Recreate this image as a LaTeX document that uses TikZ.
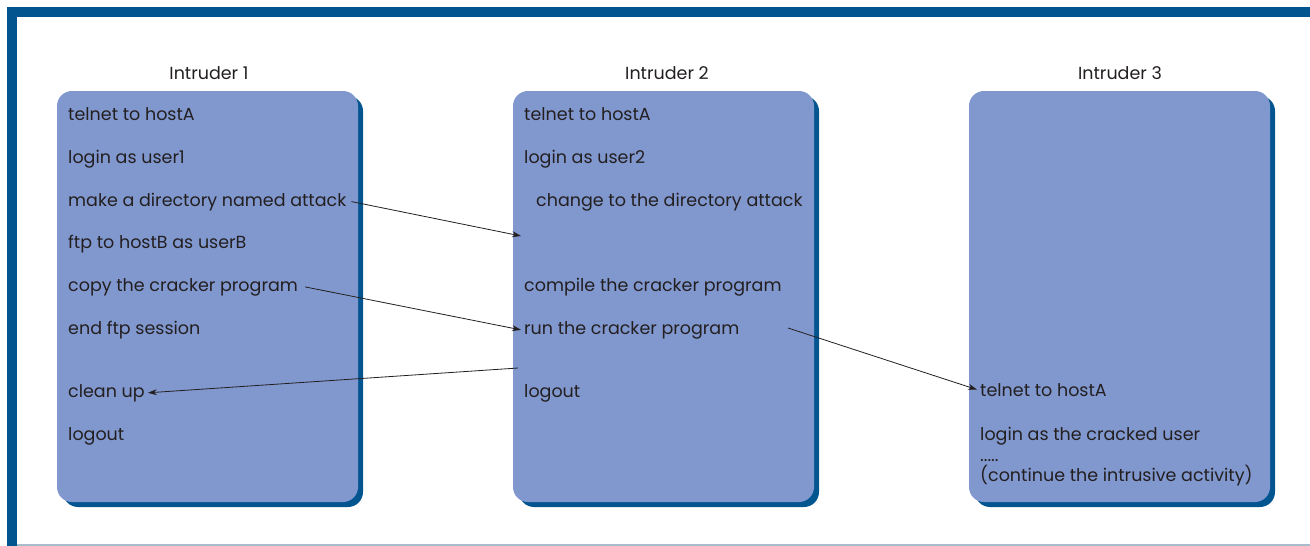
\documentclass[tikz,border=0pt]{standalone}
\usepackage{fontspec}
\setmainfont{Poppins}
\usetikzlibrary{arrows.meta}
\definecolor{frameblue}{HTML}{02558F}
\definecolor{boxfill}{HTML}{8198CF}
\definecolor{rulegray}{HTML}{A9BCCB}
\definecolor{ink}{HTML}{231F20}
\tikzset{
  item/.style={anchor=base west, inner sep=0pt, text=ink, font=\fontsize{17.5}{20}\selectfont},
  title/.style={anchor=base, inner sep=0pt, text=ink, font=\fontsize{17.5}{20}\selectfont},
  flow/.style={draw=ink, line width=0.8pt, -{Stealth[length=9pt,width=6pt]}},
  panelshadow/.style={fill=frameblue, rounded corners=15pt},
  panel/.style={fill=boxfill, rounded corners=15pt}
}
\begin{document}
\begin{tikzpicture}[x=1pt,y=-1pt]
\useasboundingbox (0,0) rectangle (1310,546);
% outer frame: thick blue top and left edges, thin grey base rule
\fill[frameblue] (7,7) rectangle (1310,17);
\fill[frameblue] (7,7) rectangle (17,546);
\draw[rulegray, line width=1.5pt] (17,545) -- (1310,545);

% panels with offset dark shadows
\foreach \x in {57,513,969}{
  \fill[panelshadow] (\x+6,96) rectangle (\x+306,507);
  \fill[panel] (\x,91) rectangle (\x+301,502);
}

% titles
\node[title] (t1) at (209,79) {Intruder 1};
\node[title] (t2) at (667,79) {Intruder 2};
\node[title] (t3) at (1120,79) {Intruder 3};

% Intruder 1
\node[item] (a1) at (68,120) {telnet to hostA};
\node[item] (a2) at (68,163) {login as user1};
\node[item] (a3) at (68,206) {make a directory named attack};
\node[item] (a4) at (68,248) {ftp to hostB as userB};
\node[item] (a5) at (68,291) {copy the cracker program};
\node[item] (a6) at (68,334) {end ftp session};
\node[item] (a7) at (68,397) {clean up};
\node[item] (a8) at (68,440) {logout};

% Intruder 2
\node[item] (b1) at (524,120) {telnet to hostA};
\node[item] (b2) at (524,163) {login as user2};
\node[item] (b3) at (536,206) {change to the directory attack};
\node[item] (b4) at (524,291) {compile the cracker program};
\node[item] (b5) at (524,334) {run the cracker program};
\node[item] (b6) at (524,397) {logout};

% Intruder 3
\node[item] (c1) at (980,396) {telnet to hostA};
\node[item] (c2) at (980,440) {login as the cracked user};
\node[item] (c3) at (980,461) {.....};
\node[item] (c4) at (980,481) {(continue the intrusive activity)};

% connector ends inside the panels
\coordinate (dirEnd) at (521,236);
\coordinate (cleanStart) at (518,368);
\coordinate (runStart) at (788,328);

% connectors
\draw[flow] ([xshift=5pt]a3.east) -- (dirEnd);
\draw[flow] ([xshift=7pt]a5.east) -- ([xshift=-3pt]b5.west);
\draw[flow] (cleanStart) -- ([xshift=3pt]a7.east);
\draw[flow] (runStart) -- ([xshift=-3pt]c1.west);
\end{tikzpicture}
\end{document}
